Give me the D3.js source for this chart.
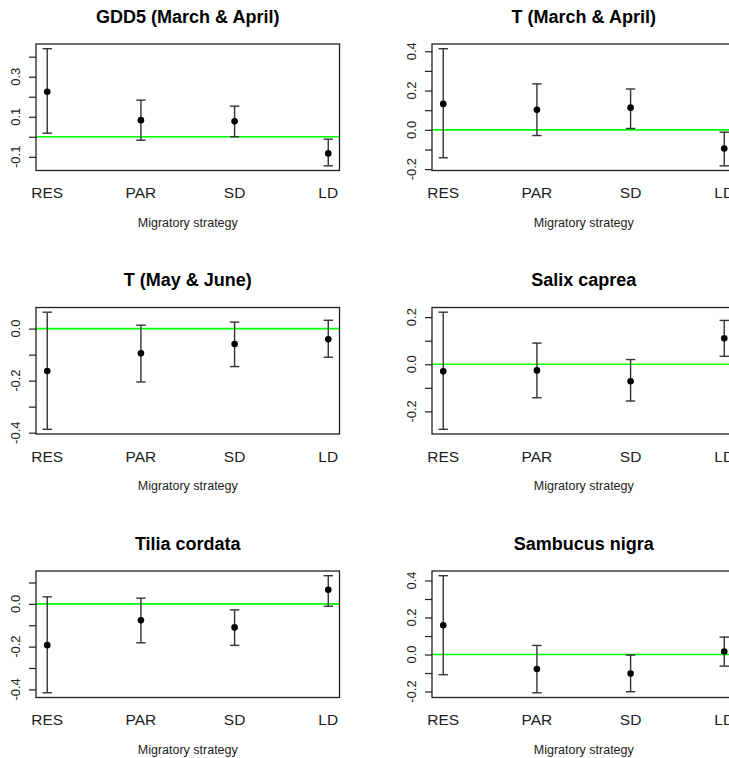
<!DOCTYPE html>
<html>
<head>
<meta charset="utf-8">
<script src="https://cdn.jsdelivr.net/npm/d3@7"></script>
<style>
  html, body { margin: 0; padding: 0; background: #fff; }
  svg { display: block; font-family: "Liberation Sans", Arial, sans-serif; }
</style>
</head>
<body>
<svg id="chart" width="729" height="758"></svg>
<script>
const categories = ["RES", "PAR", "SD", "LD"];
const titles = [
  "GDD5 (March & April)", "T (March & April)",
  "T (May & June)", "Salix caprea",
  "Tilia cordata", "Sambucus nigra"
];
const means = [
  [0.225, 0.083, 0.077, -0.083],
  [0.132, 0.102, 0.113, -0.095],
  [-0.163, -0.095, -0.059, -0.041],
  [-0.030, -0.026, -0.072, 0.110],
  [-0.193, -0.077, -0.110, 0.066],
  [0.158, -0.078, -0.103, 0.016]
];
const lowers = [
  [0.018, -0.017, 0.000, -0.145],
  [-0.142, -0.029, 0.007, -0.183],
  [-0.387, -0.205, -0.146, -0.110],
  [-0.276, -0.142, -0.156, 0.034],
  [-0.416, -0.182, -0.194, -0.011],
  [-0.109, -0.207, -0.201, -0.063]
];
const uppers = [
  [0.440, 0.183, 0.153, -0.012],
  [0.413, 0.234, 0.208, -0.012],
  [0.063, 0.013, 0.025, 0.032],
  [0.221, 0.090, 0.020, 0.186],
  [0.033, 0.027, -0.028, 0.132],
  [0.426, 0.049, -0.003, 0.094]
];
const xLabel = "Migratory strategy";

const colLeft = [36, 432];
const rowTop = [44, 307.5, 571];
const boxW = 303.5;
const boxH = 126.5;

const svg = d3.select("#chart");
const fmt = (v) => d3.format(".1f")(v).replace("\u2212", "-");

titles.forEach((title, i) => {
  const left = colLeft[i % 2];
  const top = rowTop[Math.floor(i / 2)];
  const right = left + boxW;
  const bottom = top + boxH;

  const lo = d3.min(lowers[i]);
  const hi = d3.max(uppers[i]);
  const pad = (hi - lo) * 0.04;

  const x = d3.scalePoint().domain(categories).range([left, right]).padding(0.12);
  const y = d3.scaleLinear().domain([lo - pad, hi + pad]).range([bottom, top]);

  const g = svg.append("g");

  // zero reference line
  g.append("line")
    .attr("x1", left).attr("x2", right)
    .attr("y1", y(0)).attr("y2", y(0))
    .attr("stroke", "#00ff00").attr("stroke-width", 1.6);

  // y axis, every other tick labelled (like R drops overlapping labels)
  const ticks = y.ticks(6).filter((t) => t >= y.domain()[0] && t <= y.domain()[1]);
  const yAxis = d3.axisLeft(y).tickValues(ticks).tickSize(7).tickFormat("");
  const ax = g.append("g").attr("transform", `translate(${left},0)`).call(yAxis);
  ax.select(".domain").remove();
  ax.selectAll(".tick line").attr("stroke", "#222").attr("stroke-width", 1.2);

  ticks.forEach((t, k) => {
    if (k % 2 !== 0) return;
    g.append("text")
      .attr("transform", `translate(${left - 16},${y(t)}) rotate(-90)`)
      .attr("text-anchor", "middle")
      .attr("font-size", 13)
      .attr("fill", "#222")
      .text(fmt(t));
  });

  // error bars
  categories.forEach((c, j) => {
    const cx = x(c);
    g.append("line")
      .attr("x1", cx).attr("x2", cx)
      .attr("y1", y(lowers[i][j])).attr("y2", y(uppers[i][j]))
      .attr("stroke", "#333").attr("stroke-width", 1.4);
    [lowers[i][j], uppers[i][j]].forEach((v) => {
      g.append("line")
        .attr("x1", cx - 4.7).attr("x2", cx + 4.7)
        .attr("y1", y(v)).attr("y2", y(v))
        .attr("stroke", "#333").attr("stroke-width", 1.4);
    });
    g.append("circle")
      .attr("cx", cx).attr("cy", y(means[i][j]))
      .attr("r", 3.3).attr("fill", "#000");
  });

  // box
  g.append("rect")
    .attr("x", left).attr("y", top)
    .attr("width", boxW).attr("height", boxH)
    .attr("fill", "none").attr("stroke", "#222").attr("stroke-width", 1.3);

  // x category labels
  categories.forEach((c) => {
    g.append("text")
      .attr("x", x(c)).attr("y", bottom + 27.5)
      .attr("text-anchor", "middle")
      .attr("font-size", 15.5)
      .attr("fill", "#222")
      .text(c);
  });

  g.append("text")
    .attr("x", (left + right) / 2).attr("y", bottom + 56)
    .attr("text-anchor", "middle")
    .attr("font-size", 12.5)
    .attr("fill", "#222")
    .text(xLabel);

  g.append("text")
    .attr("x", (left + right) / 2).attr("y", top - 21.5)
    .attr("text-anchor", "middle")
    .attr("font-size", 18)
    .attr("font-weight", "bold")
    .attr("fill", "#000")
    .text(title);
});
</script>
</body>
</html>
